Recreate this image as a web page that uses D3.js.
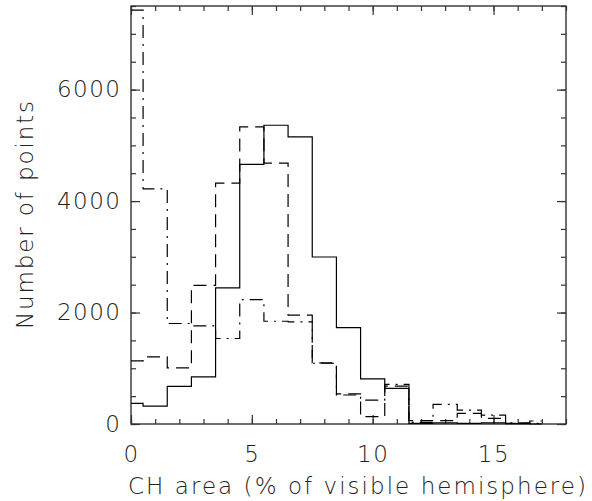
<!DOCTYPE html>
<html>
<head>
<meta charset="utf-8">
<script src="https://cdn.jsdelivr.net/npm/d3@7"></script>
<style>
  html, body { margin: 0; padding: 0; background: #fff; }
  svg { display: block; }
  text { font-family: "DejaVu Sans", sans-serif; font-weight: 200; fill: #222; }
</style>
</head>
<body>
<script>
// Histogram bin centres (CH area, % of visible hemisphere)
const binCentres = [0, 1, 2, 3, 4, 5, 6, 7, 8, 9, 10, 11, 12, 13, 14, 15, 16, 17];

// Counts per bin for the three samples
const solidCounts   = [371, 322, 675, 847, 2441, 4660, 5360, 5150, 2996, 1731, 810, 640, 12, 20, 10, 20, 5, 0];
const dashedCounts  = [1134, 1205, 1008, 2489, 4321, 5330, 4680, 1952, 1098, 540, 131, 680, 59, 59, 191, 102, 12, 54];
const dashDotCounts = [7425, 4220, 1803, 1760, 1534, 2233, 1844, 1832, 1090, 520, 430, 710, 30, 352, 250, 161, 20, 10];

// Axis ticks
const xMajorTicks = [0, 5, 10, 15];
const xMinorTicks = d3.range(0, 19, 1);
const yMajorTicks = [0, 2000, 4000, 6000];
const yMinorTicks = d3.range(0, 7501, 500);

const xTitle = "CH area (% of visible hemisphere)";
const yTitle = "Number of points";

const W = 592, H = 501;
const m = { left: 131, right: 26, top: 6, bottom: 77 };

const svg = d3.select("body").append("svg").attr("width", W).attr("height", H);

const x = d3.scaleLinear().domain([0, 18]).range([m.left, W - m.right]);
const y = d3.scaleLinear().domain([0, 7500]).range([H - m.bottom, m.top]);

const axisColor = "#333";
const fs = 23;

function styleAxis(g) {
  g.select(".domain").remove();
  g.selectAll(".tick line").attr("stroke", axisColor).attr("stroke-width", 1.2);
  g.selectAll(".tick text").attr("font-size", fs).attr("fill", "#222")
    .attr("font-family", "DejaVu Sans, sans-serif").attr("font-weight", 200)
    .attr("letter-spacing", 1.5);
}

// Minor ticks on all four sides
svg.append("g").attr("transform", `translate(0,${y(0)})`)
  .call(d3.axisBottom(x).tickValues(xMinorTicks).tickSize(-5).tickFormat(""))
  .call(styleAxis);
svg.append("g").attr("transform", `translate(0,${y(7500)})`)
  .call(d3.axisTop(x).tickValues(xMinorTicks).tickSize(-5).tickFormat(""))
  .call(styleAxis);
svg.append("g").attr("transform", `translate(${x(0)},0)`)
  .call(d3.axisLeft(y).tickValues(yMinorTicks).tickSize(-5).tickFormat(""))
  .call(styleAxis);
svg.append("g").attr("transform", `translate(${x(18)},0)`)
  .call(d3.axisRight(y).tickValues(yMinorTicks).tickSize(-5).tickFormat(""))
  .call(styleAxis);

// Major ticks with labels
svg.append("g").attr("transform", `translate(0,${y(0)})`)
  .call(d3.axisBottom(x).tickValues(xMajorTicks).tickSize(-9).tickPadding(22).tickFormat(d3.format("d")))
  .call(styleAxis);
svg.append("g").attr("transform", `translate(0,${y(7500)})`)
  .call(d3.axisTop(x).tickValues(xMajorTicks).tickSize(-9).tickFormat(""))
  .call(styleAxis);
svg.append("g").attr("transform", `translate(${x(0)},0)`)
  .call(d3.axisLeft(y).tickValues(yMajorTicks).tickSize(-9).tickPadding(9.5).tickFormat(d3.format("d")))
  .call(styleAxis);
svg.append("g").attr("transform", `translate(${x(18)},0)`)
  .call(d3.axisRight(y).tickValues(yMajorTicks).tickSize(-9).tickFormat(""))
  .call(styleAxis);

// Plot frame
svg.append("rect")
  .attr("x", x(0)).attr("y", y(7500))
  .attr("width", x(18) - x(0)).attr("height", y(0) - y(7500))
  .attr("fill", "none").attr("stroke", axisColor).attr("stroke-width", 1.4);

// Step histograms (steps halfway between bin centres)
const line = d3.line()
  .x(d => x(d[0]))
  .y(d => y(d[1]))
  .curve(d3.curveStep);

const series = [
  { counts: solidCounts,   dash: null },
  { counts: dashedCounts,  dash: "13,7" },
  { counts: dashDotCounts, dash: "13,6,2,6" }
];

series.forEach(s => {
  svg.append("path")
    .datum(binCentres.map((c, i) => [c, s.counts[i]]))
    .attr("d", line)
    .attr("fill", "none")
    .attr("stroke", "#000")
    .attr("stroke-width", 1.2)
    .attr("stroke-dasharray", s.dash);
});

// Axis titles
svg.append("text")
  .attr("x", 357).attr("y", 494)
  .attr("text-anchor", "middle").attr("font-size", fs)
  .attr("textLength", 458).attr("lengthAdjust", "spacing")
  .text(xTitle);

svg.append("text")
  .attr("transform", `translate(33,${(y(0) + y(7500)) / 2}) rotate(-90)`)
  .attr("text-anchor", "middle").attr("font-size", fs)
  .attr("textLength", 228).attr("lengthAdjust", "spacing")
  .text(yTitle);
</script>
</body>
</html>
